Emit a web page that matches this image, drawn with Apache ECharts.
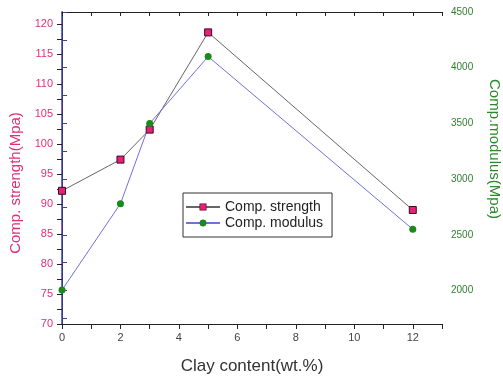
<!DOCTYPE html>
<html><head><meta charset="utf-8">
<script src="https://cdn.jsdelivr.net/npm/echarts@6/dist/echarts.min.js"></script>
<style>html,body{margin:0;padding:0;background:#fff}#c{width:503px;height:380px}</style>
</head><body><div id="c"></div>
<script>
var clay = [0, 2, 3, 5, 12];
var strength = [92.2, 97.4, 102.4, 118.6, 89.0];
var modulus = [2005, 2780, 3500, 4100, 2550];
var xLabels = [0, 2, 4, 6, 8, 10, 12];
var xTicks = [0,1,2,3,4,5,6,7,8,9,10,11,12,13];
var leftLabels = [70, 75, 80, 85, 90, 95, 100, 105, 110, 115, 120];
var leftTicks = [70,72.5,75,77.5,80,82.5,85,87.5,90,92.5,95,97.5,100,102.5,105,107.5,110,112.5,115,117.5,120];
var rightLabels = [2000, 2500, 3000, 3500, 4000, 4500];
var rightTicks = [1750,2000,2250,2500,2750,3000,3250,3500,3750,4000,4250,4500];

function pairs(xs, ys){ return xs.map(function(x,i){ return [x, ys[i]]; }); }

var font = 'Liberation Sans, Arial, sans-serif';
var chart = echarts.init(document.getElementById('c'), null, {renderer:'canvas'});
chart.setOption({
  animation: false,
  backgroundColor: '#fff',
  textStyle: {fontFamily: font},
  grid: {left: 62, right: 61, top: 12, bottom: 56, containLabel: false, outerBoundsMode: 'none'},
  legend: {
    orient: 'vertical', left: 183, top: 193,
    borderColor: '#333', borderWidth: 1,
    padding: [7, 9, 7, 2],
    itemWidth: 34, itemHeight: 8, itemGap: 2,
    itemStyle: {borderWidth: 0.6},
    textStyle: {fontSize: 14, color: '#222', fontFamily: font},
    data: ['Comp. strength', 'Comp. modulus']
  },
  xAxis: [{
    type: 'value', min: 0, max: 13, position: 'bottom',
    name: 'Clay content(wt.%)', nameLocation: 'middle', nameGap: 34,
    nameTextStyle: {fontSize: 17, color: '#333', fontFamily: font},
    axisLine: {show: true, lineStyle: {color: '#222', width: 1}},
    axisTick: {show: true, length: 5, customValues: xTicks, lineStyle: {color: '#222'}},
    axisLabel: {customValues: xLabels, color: '#444', fontSize: 11, margin: 8},
    splitLine: {show: false}
  }, {
    type: 'value', min: 0, max: 13, position: 'top',
    axisLine: {show: true, lineStyle: {color: '#222', width: 1}},
    axisTick: {show: true, inside: true, length: 4, customValues: xTicks, lineStyle: {color: '#222'}},
    axisLabel: {show: false},
    splitLine: {show: false}
  }],
  yAxis: [{
    type: 'value', min: 70, max: 122, position: 'left',
    name: 'Comp. strength(Mpa)', nameLocation: 'middle', nameGap: 38, nameRotate: 90,
    nameTextStyle: {fontSize: 15, color: '#e0307a', fontFamily: font, padding: [0, 30, 0, 0]},
    axisLine: {show: true, lineStyle: {color: '#222', width: 1}},
    axisTick: {show: true, length: 5, customValues: leftTicks, lineStyle: {color: '#222'}},
    axisLabel: {customValues: leftLabels, color: '#e0307a', fontSize: 11, margin: 9},
    splitLine: {show: false}
  }, {
    type: 'value', min: 1700, max: 4500, position: 'right',
    name: 'Comp.modulus(Mpa)', nameLocation: 'middle', nameGap: 45, nameRotate: -90,
    nameTextStyle: {fontSize: 15, color: '#2a8a2a', fontFamily: font, padding: [0, 38, 0, 0]},
    axisLine: {show: true, lineStyle: {color: '#4040a8', width: 1.5}},
    axisTick: {show: true, length: 5, customValues: rightTicks, lineStyle: {color: '#4040a8'}},
    axisLabel: {customValues: rightLabels, color: '#2f7f2f', fontSize: 10, margin: 9,
      formatter: function(v){ return String(v); }},
    splitLine: {show: false}
  }],
  series: [{
    name: 'Comp. strength', type: 'line', xAxisIndex: 0, yAxisIndex: 0,
    data: pairs(clay, strength),
    symbol: 'rect', symbolSize: 7,
    lineStyle: {color: '#666', width: 1},
    itemStyle: {color: '#e8207a', borderColor: '#3a0a1e', borderWidth: 1}
  }, {
    name: 'Comp. modulus', type: 'line', xAxisIndex: 0, yAxisIndex: 1,
    data: pairs(clay, modulus),
    symbol: 'circle', symbolSize: 7,
    lineStyle: {color: '#7070e0', width: 1},
    itemStyle: {color: '#1a8a1a', borderColor: '#1a7a1a', borderWidth: 0}
  }]
});
</script>
</body></html>
